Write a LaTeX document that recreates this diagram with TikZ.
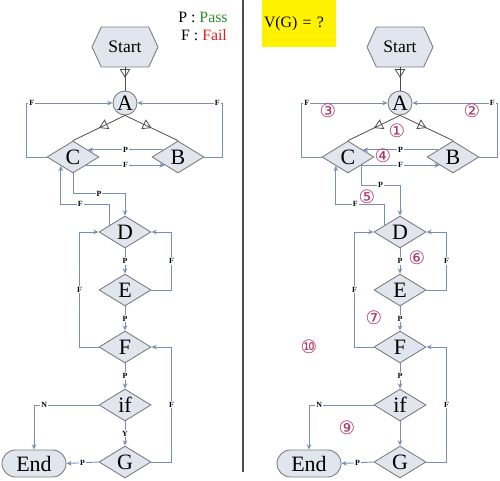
\documentclass[tikz,border=0pt]{standalone}
\usepackage{fontspec}
\setmainfont{Liberation Serif}
\newfontfamily\circfont{DejaVu Sans}
\usetikzlibrary{shapes.geometric,shapes.misc,shapes.symbols}
\usetikzlibrary{arrows.meta}
\usetikzlibrary{calc}
\usetikzlibrary{decorations.markings}
\definecolor{nodefill}{RGB}{224,229,238}
\definecolor{nodeline}{RGB}{125,125,125}
\definecolor{linkblue}{RGB}{118,143,185}
\definecolor{passgreen}{RGB}{40,140,40}
\definecolor{failred}{RGB}{225,30,30}
\definecolor{numred}{RGB}{175,50,100}
\tikzset{
  base/.style={draw=nodeline, fill=nodefill, line width=0.5pt, inner sep=0pt,
    font=\fontsize{12.5}{13}\selectfont},
  dia/.style={base, diamond, aspect=1.6, minimum width=1.04cm, minimum height=0.64cm},
  circ/.style={base, circle, minimum size=0.48cm},
  hexa/.style={base, signal, signal to=east and west, signal pointer angle=130,
    minimum width=1.32cm, minimum height=0.8cm, font=\fontsize{10}{11}\selectfont},
  term/.style={base, rounded rectangle, minimum width=1.28cm, minimum height=0.54cm},
  conn/.style={draw=linkblue, line width=0.5pt, -{Stealth[length=3pt,width=2.6pt]}},
  tri/.style={draw=black!70, line width=0.45pt, postaction={decorate},
    decoration={markings, mark=at position #1 with {\arrow{Triangle[open,length=5pt,width=6pt]}}}},
  tri/.default=0.5,
  lbl/.style={fill=white, inner sep=0.6pt, font=\fontsize{4.5}{5}\selectfont\bfseries},
  num/.style={text=numred, inner sep=0pt, font=\circfont\fontsize{10.5}{11}\selectfont},
}
\begin{document}
\begin{tikzpicture}[x=0.02cm, y=-0.02cm]
  \useasboundingbox (0,0) rectangle (500,480);
  % legend, divider and question box
  \node (pass) at (203,17) {\fontsize{9}{10}\selectfont P : \textcolor{passgreen}{Pass}};
  \node (fail) at (204,35) {\fontsize{9}{10}\selectfont F : \textcolor{failred}{Fail}};
  \draw[black!70, line width=0.6pt] (243,0) -- (243,472);
  \node[fill=yellow, inner sep=1pt, text width=1.4cm, minimum height=0.94cm, align=left,
    font=\fontsize{9}{10}\selectfont] (vg) at (299,23.5) {V(G) = ?};
  % the same flow graph twice
  \foreach \s/\dx/\pf in {l/0/0, r/275/0.5} {
    \node[hexa] (Start\s) at (125+\dx,47) {Start};
    \node[circ] (A\s) at (125+\dx,103) {A};
    \node[dia] (C\s) at (73+\dx,157) {C};
    \node[dia] (B\s) at (178+\dx,157) {B};
    \node[dia] (D\s) at (125+\dx,232) {D};
    \node[dia] (E\s) at (125+\dx,290) {E};
    \node[dia] (F\s) at (125+\dx,347) {F};
    \node[dia] (if\s) at (125+\dx,405) {if};
    \node[dia] (G\s) at (125+\dx,462) {G};
    \node[term] (End\s) at (34+\dx,463.5) {End};
    \draw[tri=0.45] (Start\s.south) -- (A\s.north);
    \draw[tri] (A\s.south) -- (C\s.north);
    \draw[tri] (A\s.south) -- (B\s.north);
    \draw[conn] ($(B\s.west)!0.44!(B\s.north)$) -- node[lbl]{P} ($(C\s.east)!0.44!(C\s.north)$);
    \draw[conn] ($(C\s.east)!0.5!(C\s.south)$) -- node[lbl]{F} ($(B\s.west)!0.5!(B\s.south)$);
    \draw[conn] (C\s.west) -- ++(-20,0) |- node[lbl,pos=0.53]{F} (A\s.west);
    \draw[conn] (B\s.east) -- ++(18,0) |- node[lbl,pos=0.53]{F} (A\s.east);
    \draw[conn] ($(C\s.south)!\pf!(C\s.east)$) -- ++(0,20) -| node[lbl,pos=0.25]{P} (D\s.north);
    \draw[conn] ($(D\s.west)!0.42!(D\s.north)$) -- ++(0,-21) -| node[lbl,pos=0.3]{F}
      ($(C\s.west)!0.54!(C\s.south)$);
    \draw[conn] (D\s.south) -- node[lbl]{P} (E\s.north);
    \draw[conn] (E\s.east) -- ++(20,0) |- node[lbl,pos=0.25]{F} (D\s.east);
    \draw[conn] (E\s.south) -- node[lbl]{P} (F\s.north);
    \draw[conn] (F\s.west) -- ++(-19,0) |- node[lbl,pos=0.25]{F} (D\s.west);
    \draw[conn] (F\s.south) -- node[lbl]{P} (if\s.north);
    \draw[conn] (if\s.west) -| node[lbl,pos=0.42]{N} (End\s.north);
    \draw[conn] (if\s.south) -- (G\s.north);
    \draw[conn] (G\s.east) -- ++(20,0) |- node[lbl,pos=0.25]{F} (F\s.east);
    \draw[conn] (G\s.west) -- node[lbl]{P} (End\s.east);
  }
  \node[lbl] (yes) at ($(ifl.south)!0.5!(Gl.north)$) {Y};
  % region numbers
  \node[num] (n1) at (397,131) {①};
  \node[num] (n2) at (472,111) {②};
  \node[num] (n3) at (328,111) {③};
  \node[num] (n4) at (383,156) {④};
  \node[num] (n5) at (367,197) {⑤};
  \node[num] (n6) at (417,258) {⑥};
  \node[num] (n7) at (374,318) {⑦};
  \node[num] (n9) at (347,428) {⑨};
  \node[num] (n10) at (309,347) {⑩};
\end{tikzpicture}
\end{document}
